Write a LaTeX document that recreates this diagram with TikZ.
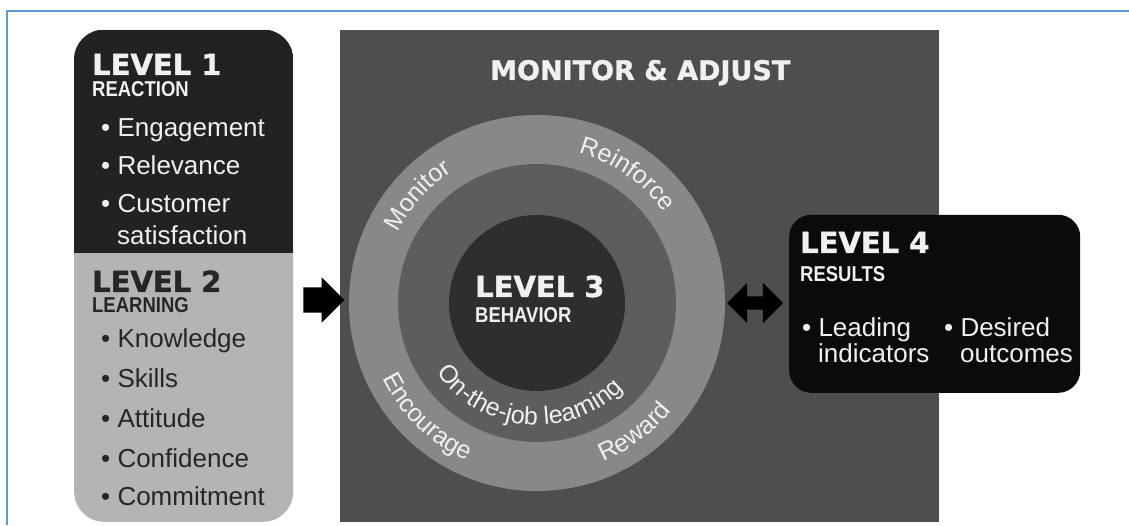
\documentclass[tikz,border=0pt]{standalone}
\usepackage{fontspec}
\setmainfont{Liberation Sans}
\newfontfamily\headfont{DejaVu Sans}[BoldFeatures={FakeBold=1.2}]
\newfontfamily\condfont{Liberation Sans}[FakeStretch=0.86]
\usetikzlibrary{shapes.arrows,decorations.text}

\definecolor{frameblue}{HTML}{5B9BD5}
\definecolor{reactfill}{HTML}{222222}
\definecolor{learnfill}{HTML}{B4B4B4}
\definecolor{squarefill}{HTML}{4E4E4E}
\definecolor{outerring}{HTML}{888888}
\definecolor{midring}{HTML}{5D5D5D}
\definecolor{coredisk}{HTML}{2E2E2E}
\definecolor{resultfill}{HTML}{0B0B0B}
\definecolor{lighttext}{HTML}{F0F0F0}
\definecolor{darktext}{HTML}{262626}

\newcommand\ringfont{\fontsize{25}{25}\selectfont\color{lighttext}}

\begin{document}
\begin{tikzpicture}[x=1pt,y=1pt,
  levelhead/.style={anchor=base west, inner sep=0pt, font=\headfont\bfseries\fontsize{29}{29}\selectfont},
  levelsub/.style={anchor=base west, inner sep=0pt, font=\condfont\bfseries\fontsize{21.5}{21.5}\selectfont},
  item/.style={anchor=base west, inner sep=0pt, font=\fontsize{26}{26}\selectfont},
  ringtext/.style={decorate, decoration={text along path, text align=center, text={|\ringfont|#1}}},
  blockarrow/.style={fill=black, inner xsep=0pt}
]
\useasboundingbox (0,0) rectangle (1129,525);
\fill[white] (0,0) rectangle (1129,525);

% page frame
\draw[frameblue, line width=2.5pt] (7,0) -- (7,514) -- (1129,514);

% Level 1 / Level 2 column
\node[rectangle, rounded corners=30pt, fill=learnfill, inner sep=0pt,
      minimum width=219pt, minimum height=492pt, anchor=south west] (lvl12) at (74,3) {};
\begin{scope}
  \clip[rounded corners=30pt] (lvl12.south west) rectangle (lvl12.north east);
  \fill[reactfill] (74,272) rectangle (293,495);
\end{scope}

\node[levelhead, text=lighttext] (l1) at (92,450) {LEVEL 1};
\node[levelsub, text=lighttext] (l1s) at (92,428) {REACTION};
\node[item, text=lighttext] (l1a) at (101,388) {• Engagement};
\node[item, text=lighttext] (l1b) at (101,350) {• Relevance};
\node[item, text=lighttext] (l1c) at (101,312) {• Customer};
\node[item, text=lighttext] (l1d) at (117,280) {satisfaction};

\node[levelhead, text=darktext] (l2) at (92,233) {LEVEL 2};
\node[levelsub, text=darktext] (l2s) at (92,212) {LEARNING};
\node[item, text=darktext] (l2a) at (101,177) {• Knowledge};
\node[item, text=darktext] (l2b) at (101,138) {• Skills};
\node[item, text=darktext] (l2c) at (101,98) {• Attitude};
\node[item, text=darktext] (l2d) at (101,58) {• Confidence};
\node[item, text=darktext] (l2e) at (101,20) {• Commitment};

% Monitor & adjust square
\node[rectangle, fill=squarefill, inner sep=0pt, minimum width=599pt, minimum height=492pt,
      anchor=south west] (sq) at (340,3) {};
\node[anchor=base west, inner sep=0pt, text=lighttext,
      font=\headfont\bfseries\fontsize{27}{27}\selectfont] (ma) at (490,445) {MONITOR \& ADJUST};

% Level 3 rings
\node[circle, fill=outerring, inner sep=0pt, minimum size=376pt] (ring) at (537,222) {};
\node[circle, fill=midring, inner sep=0pt, minimum size=278pt] (mid) at (ring.center) {};
\node[circle, fill=coredisk, inner sep=0pt, minimum size=176pt] (core) at (ring.center) {};

\node[levelhead, text=lighttext] (l3) at (475,228) {LEVEL 3};
\node[levelsub, text=lighttext] (l3s) at (475,202) {BEHAVIOR};

\path[ringtext=Monitor] (ring.center) ++(163:156) arc[start angle=163, end angle=113, radius=156];
\path[ringtext=Reinforce] (ring.center) ++(87:156) arc[start angle=87, end angle=23, radius=156];
\path[ringtext=Encourage] (ring.center) ++(192:172) arc[start angle=192, end angle=260, radius=172];
\path[ringtext=Reward] (ring.center) ++(278:172) arc[start angle=278, end angle=336, radius=172];
\path[ringtext=On-the-job learning] (ring.center) ++(200:122) arc[start angle=200, end angle=330, radius=122];

% Level 4 box
\node[rectangle, rounded corners=22pt, fill=resultfill, inner sep=0pt,
      minimum width=291pt, minimum height=178pt, anchor=south west] (lvl4) at (789,132) {};
\node[levelhead, text=lighttext] (l4) at (800,272) {LEVEL 4};
\node[levelsub, text=lighttext] (l4s) at (800,243) {RESULTS};
\node[item, text=lighttext] (l4a) at (802,188) {• Leading};
\node[item, text=lighttext] (l4b) at (818,162) {indicators};
\node[item, text=lighttext] (l4c) at (944,188) {• Desired};
\node[item, text=lighttext] (l4d) at (960,162) {outcomes};

% block arrows between the stages
\node[single arrow, blockarrow, inner ysep=12.5pt, minimum height=41pt, minimum width=45pt,
      single arrow head extend=10pt] (feed) at (317.5,225) {};
\node[double arrow, blockarrow, inner ysep=6.5pt, minimum height=56pt, minimum width=40pt,
      double arrow head extend=13.5pt] (link) at (755,222) {};
\end{tikzpicture}
\end{document}
